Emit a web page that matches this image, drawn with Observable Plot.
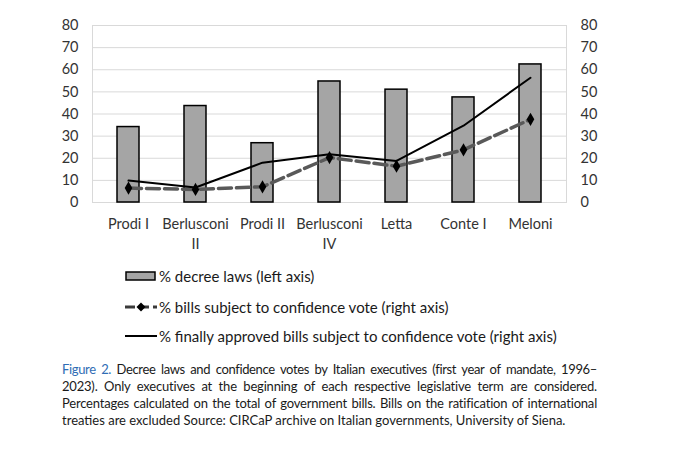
<!DOCTYPE html>
<html><head><meta charset="utf-8">
<script src="https://cdn.jsdelivr.net/npm/d3@7"></script>
<script src="https://cdn.jsdelivr.net/npm/@observablehq/plot@0.6"></script>
<style>
body{margin:0;background:#fff;font-family:Lato,"Open Sans",sans-serif;}
#wrap{position:relative;width:680px;height:450px;overflow:hidden;}
#chart{position:absolute;left:0;top:0;}
.leg{position:absolute;left:125px;font-size:15px;color:#1a1a1a;display:flex;align-items:center;white-space:nowrap;height:20px;}
.leg svg{margin-right:2px;}
#cap{position:absolute;left:62px;top:361px;width:535px;font-size:13px;line-height:17px;color:#1a1a1a;}
#cap div{text-align:justify;text-align-last:justify;white-space:nowrap;letter-spacing:-0.2px;}
#cap div.first{letter-spacing:-0.35px;}
#cap div.last{text-align-last:left;letter-spacing:0;}
#cap b{color:#2f6db5;font-weight:normal;}
</style></head><body>
<div id="wrap">
<div id="chart"></div>
<div class="leg" style="top:266px"><svg width="32" height="12"><rect x="1" y="2" width="29" height="8" fill="#a5a5a5" stroke="#000" stroke-width="1.5"/></svg>% decree laws (left axis)</div>
<div class="leg" style="top:297px"><svg width="32" height="12"><line x1="0" y1="6" x2="32" y2="6" stroke="#3a3a3a" stroke-width="3" stroke-dasharray="10,4"/><path d="M16,1.5 L20.5,6 L16,10.5 L11.5,6Z" fill="#000"/></svg>% bills subject to confidence vote (right axis)</div>
<div class="leg" style="top:326px"><svg width="32" height="12"><line x1="0" y1="6" x2="32" y2="6" stroke="#000" stroke-width="2"/></svg>% finally approved bills subject to confidence vote (right axis)</div>
<div id="cap">
<div class="first"><b>Figure 2.</b> Decree laws and confidence votes by Italian executives (first year of mandate, 1996–</div>
<div>2023). Only executives at the beginning of each respective legislative term are considered.</div>
<div>Percentages calculated on the total of government bills. Bills on the ratification of international</div>
<div class="last">treaties are excluded Source: CIRCaP archive on Italian governments, University of Siena.</div>
</div>
</div>
<script>
const executives = ["Prodi I","Berlusconi II","Prodi II","Berlusconi IV","Letta","Conte I","Meloni"];
const tickLabels = ["Prodi I","Berlusconi\nII","Prodi II","Berlusconi\nIV","Letta","Conte I","Meloni"];
const decreeLaws = [34.1,43.6,26.8,54.7,51.0,47.5,62.4];
const confidenceBills = [6.5,5.9,7.1,20.3,16.4,23.8,37.6];
const approvedConfidence = [9.9,6.8,18.0,21.8,18.8,34.7,56.4];
const yTicks = [0,10,20,30,40,50,60,70,80];

const data = executives.map((e,i)=>({exec:e, label:tickLabels[i], decree:decreeLaws[i], conf:confidenceBills[i], appr:approvedConfidence[i]}));
const labelOf = new Map(data.map(d=>[d.exec,d.label]));

const chart = Plot.plot({
  width: 680, height: 260,
  marginTop: 25, marginBottom: 58, marginLeft: 92, marginRight: 114,
  style: {fontFamily: "Lato, 'Open Sans', sans-serif", color: "#333", background: "#fff"},
  x: {domain: executives, paddingInner: 0.67, paddingOuter: 0.335},
  y: {domain: [0,80]},
  marks: [
    Plot.ruleY(yTicks, {stroke: "#d9d9d9", strokeWidth: 1}),
    Plot.frame({stroke: "#d9d9d9"}),
    Plot.barY(data, {x: "exec", y: "decree", fill: "#a5a5a5", stroke: "#000", strokeWidth: 1.5}),
    Plot.lineY(data, {x: "exec", y: "conf", stroke: "#595959", strokeWidth: 3.5, strokeDasharray: "13,5"}),
    Plot.dot(data, {x: "exec", y: "conf", symbol: "diamond", r: 4, fill: "#000"}),
    Plot.lineY(data, {x: "exec", y: "appr", stroke: "#000", strokeWidth: 2}),
    Plot.axisY(yTicks, {anchor: "left", tickSize: 0, tickPadding: 14, fontSize: 14.5, label: null}),
    Plot.axisY(yTicks, {anchor: "right", tickSize: 0, tickPadding: 14, fontSize: 14.5, label: null}),
    Plot.axisX({tickSize: 0, tickPadding: 12, fontSize: 14.5, lineHeight: 1.4, tickFormat: d => labelOf.get(d), label: null})
  ]
});
document.getElementById("chart").appendChild(chart);
</script>
</body></html>
